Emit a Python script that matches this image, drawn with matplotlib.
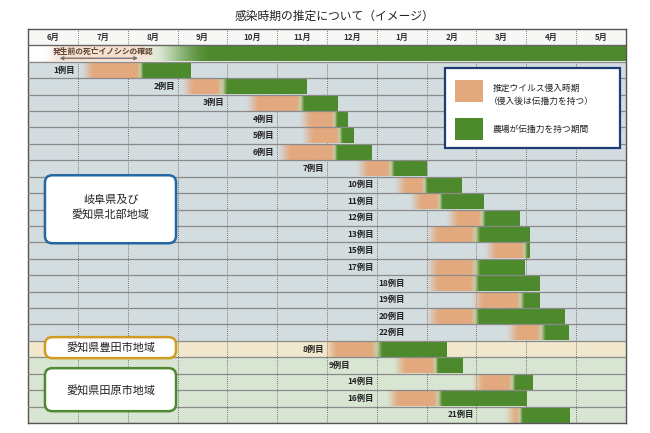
import numpy as np
import matplotlib.pyplot as plt
from matplotlib.patches import FancyBboxPatch, Rectangle
from matplotlib.colors import to_rgb

plt.rcParams['font.family'] = ['Noto Sans CJK JP', 'DejaVu Sans']

# months on the x axis (0 = start of June)
months = ['6月', '7月', '8月', '9月', '10月', '11月', '12月',
          '1月', '2月', '3月', '4月', '5月']

# case rows, top to bottom
cases = ['1例目', '2例目', '3例目', '4例目', '5例目', '6例目', '7例目',
         '10例目', '11例目', '12例目', '13例目', '15例目', '17例目',
         '18例目', '19例目', '20例目', '22例目',
         '8例目',
         '9例目', '14例目', '16例目', '21例目']
region = ['gifu'] * 17 + ['toyota'] + ['tahara'] * 4

# estimated virus entry period (orange) and infectious period (green), in months from June 1
orange_start = [1.24, 3.25, 4.56, 5.62, 5.66, 5.20, 6.76, 7.53, 7.83, 8.57, 8.17, 9.33, 8.17,
                8.17, 9.07, 8.17, 9.77, 6.12, 7.50, 9.07, 7.37, 9.73]
orange_end = [2.21, 3.81, 5.42, 6.12, 6.22, 6.12, 7.24, 7.93, 8.23, 9.07, 8.91, 9.93, 8.91,
              8.91, 9.83, 8.91, 10.23, 6.90, 8.13, 9.67, 8.17, 9.83]
green_start = [2.25, 3.95, 5.50, 6.16, 6.26, 6.16, 7.30, 7.97, 8.27, 9.13, 9.03, 9.97, 9.03,
               9.00, 9.91, 9.00, 10.33, 7.06, 8.17, 9.73, 8.27, 9.87]
green_end = [3.25, 5.58, 6.22, 6.42, 6.54, 6.90, 8.00, 8.71, 9.15, 9.87, 10.07, 10.07, 9.97,
             10.27, 10.27, 10.76, 10.84, 8.39, 8.71, 10.13, 10.01, 10.86]

# label anchor (month boundary) and side
label_at = [1, 3, 4, 5, 5, 5, 6, 7, 7, 7, 7, 7, 7, 7, 7, 7, 7, 6, 6, 7, 7, 9]
label_side = ['r'] * 13 + ['l', 'l', 'l', 'l'] + ['r', 'l', 'r', 'r', 'r']

ORANGE = np.array(to_rgb('#e3a97e'))
GREEN = np.array(to_rgb('#4d8a2c'))
WHITE = np.ones(3)

fig = plt.figure(figsize=(6.5, 4.33), dpi=100)
ax = fig.add_axes([28 / 650, 10 / 433, 598 / 650, 394 / 433])

# row backgrounds
ax.axhspan(-1.5, -0.5, color='#f7f7f5', zorder=0)
ax.axhspan(-0.5, 0.5, color='#f9f7f1', zorder=0)
ax.axhspan(0.5, 17.5, color='#d3dcdf', zorder=0)
ax.axhspan(17.5, 18.5, color='#f2e8cd', zorder=0)
ax.axhspan(18.5, 22.5, color='#d9e5d3', zorder=0)

for m in range(1, 12):
    ax.axvline(m, color='#555555', lw=0.6, ls=(0, (1, 1.5)), zorder=1.5)


def smooth(x):
    return np.clip(x, 0, 1) ** 2 * (3 - 2 * np.clip(x, 0, 1))


def gradient_bar(y, o0, o1, g0, g1):
    x0 = o0 - 0.2
    xs = np.linspace(x0, g1, 600)
    t = smooth((xs - (o1 - 0.04)) / (g0 - o1 + 0.1))
    rgb = ORANGE[None, :] * (1 - t[:, None]) + GREEN[None, :] * t[:, None]
    light = 0.45 * np.sin(np.pi * t)
    rgb = rgb * (1 - light[:, None]) + WHITE[None, :] * light[:, None]
    alpha = smooth((xs - x0) / 0.3)
    img = np.dstack([rgb[None, :, 0], rgb[None, :, 1], rgb[None, :, 2], alpha[None, :]])
    ax.imshow(img, extent=(x0, g1, y + 0.47, y - 0.47), aspect='auto',
              interpolation='bilinear', zorder=2)


# wild boar row
xs = np.linspace(0, 12, 800)
w_or = 0.35 * smooth((xs - 0.3) / 0.4) * (1 - smooth((xs - 2.2) / 0.5))
w_gr = smooth((xs - 2.2) / 1.5)
rgb = WHITE[None, :] * (1 - w_or[:, None]) + ORANGE[None, :] * w_or[:, None]
rgb = rgb * (1 - w_gr[:, None]) + GREEN[None, :] * w_gr[:, None]
ax.imshow(rgb[None, :, :], extent=(0, 12, 0.47, -0.47), aspect='auto',
          interpolation='bilinear', zorder=2)
ax.text(0.5, -0.12, '発生前の死亡イノシシの確認', fontsize=5.6, fontweight='bold',
        color='#5a4030', ha='left', va='center', zorder=4)
ax.annotate('', xy=(0.58, 0.28), xytext=(2.26, 0.28),
            arrowprops=dict(arrowstyle='<->', color='#6a6a6a', lw=0.9,
                            mutation_scale=5), zorder=4)

for i, name in enumerate(cases):
    y = i + 1
    gradient_bar(y, orange_start[i], orange_end[i], green_start[i], green_end[i])
    if label_side[i] == 'r':
        ax.text(label_at[i] - 0.05, y, name, ha='right', va='center', fontsize=6,
                fontweight='bold', color='#222222', zorder=4)
    else:
        ax.text(label_at[i] + 0.04, y, name, ha='left', va='center', fontsize=6,
                fontweight='bold', color='#222222', zorder=4)

# row separators
for k in range(0, 23):
    ax.axhline(k + 0.5, color='#8a8a8a', lw=0.9, zorder=3)
ax.axhline(-0.5, color='#666666', lw=1.0, zorder=3)

# month header
for m, lab in enumerate(months):
    ax.text(m + 0.5, -1, lab, ha='center', va='center', fontsize=5.8,
            fontweight='bold', color='#333333', zorder=4)

# region boxes
boxes = [((0.34, 7.41), 2.63, 4.14, '#2467a3', '岐阜県及び\n愛知県北部地域', 9.35),
         ((0.34, 17.27), 2.63, 1.28, '#d29b22', '愛知県豊田市地域', 17.9),
         ((0.34, 19.16), 2.63, 2.62, '#4f8a32', '愛知県田原市地域', 20.5)]
for (x, y), w, h, ec, txt, ty in boxes:
    ax.add_patch(FancyBboxPatch((x, y), w, h, boxstyle='round,pad=0,rounding_size=0.15',
                                mutation_aspect=3.0, fc='white', ec=ec, lw=1.8, zorder=5))
    ax.text(x + w / 2, ty, txt, ha='center', va='center', fontsize=8,
            color='#222222', linespacing=1.5, zorder=6)

# legend
ax.add_patch(Rectangle((8.37, 0.9), 3.51, 4.87, fc='white', ec='#1f3c78', lw=1.6, zorder=5))
ax.add_patch(Rectangle((8.57, 1.63), 0.56, 1.34, fc=ORANGE, ec='none', zorder=6))
ax.add_patch(Rectangle((8.57, 3.94), 0.56, 1.34, fc=GREEN, ec='none', zorder=6))
ax.text(9.33, 2.12, '推定ウイルス侵入時期', fontsize=6.3, color='#222222',
        va='center', ha='left', zorder=6)
ax.text(9.24, 2.92, '（侵入後は伝播力を持つ）', fontsize=6.3, color='#222222',
        va='center', ha='left', zorder=6)
ax.text(9.33, 4.6, '農場が伝播力を持つ期間', fontsize=6.3, color='#222222',
        va='center', ha='left', zorder=6)

ax.set_xlim(0, 12)
ax.set_ylim(22.5, -1.5)
ax.set_xticks([])
ax.set_yticks([])
for s in ax.spines.values():
    s.set_color('#555555')
    s.set_linewidth(1.0)

fig.text(334 / 650, 1 - 16 / 433, '感染時期の推定について（イメージ）', fontsize=8.5,
         ha='center', va='center', color='#222222')

fig.savefig('out.png', dpi=100)
